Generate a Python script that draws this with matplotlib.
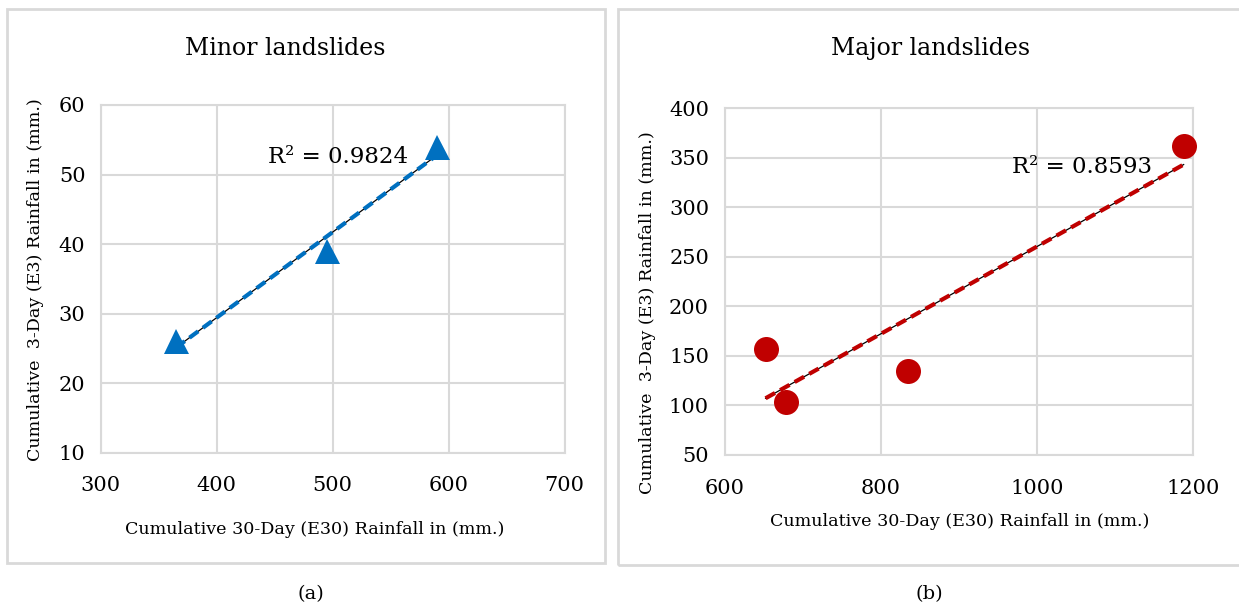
import numpy as np
import matplotlib
matplotlib.use("Agg")
import matplotlib.pyplot as plt
from matplotlib.patches import Rectangle

plt.rcParams['font.family'] = ['DejaVu Serif']

# ---- data ----
minor_e30 = [365, 495, 590]
minor_e3 = [26, 39, 54]
minor_r2_text = "R² = 0.9824"

major_e30 = [652, 678, 835, 1188]
major_e3 = [157, 103, 135, 362]
major_r2_text = "R² = 0.8593"

minor_xticks = [300, 400, 500, 600, 700]
minor_yticks = [10, 20, 30, 40, 50, 60]
major_xticks = [600, 800, 1000, 1200]
major_yticks = [50, 100, 150, 200, 250, 300, 350, 400]

titles = ["Minor landslides", "Major landslides"]
xlabel = "Cumulative 30-Day (E30) Rainfall in (mm.)"
ylabel = "Cumulative  3-Day (E3) Rainfall in (mm.)"
captions = ["(a)", "(b)"]

W, H = 1239, 609
fig = plt.figure(figsize=(W / 100, H / 100), dpi=100)
GRID = '#d9d9d9'


def fx(px):
    return px / W


def fy(py):
    return 1 - py / H


# outer boxes
for (x0, y0, x1, y1) in [(7, 8.5, 605, 563), (618, 8.5, 1250, 565)]:
    fig.patches.append(Rectangle((fx(x0), fy(y1)), fx(x1) - fx(x0), fy(y0) - fy(y1),
                                 transform=fig.transFigure, fill=False,
                                 edgecolor=GRID, lw=2, zorder=0))

panels = [
    dict(rect=[fx(100.7), fy(452.7), fx(564.5) - fx(100.7), fy(105) - fy(452.7)],
         x=minor_e30, y=minor_e3, xt=minor_xticks, yt=minor_yticks,
         color='#0070C0', marker='^', r2=minor_r2_text, r2pos=(268, 157),
         title_pos=(285, 48.5), xl_pos=(315, 529), yl_pos=(36, 280), ypad=11,
         cap_pos=(311, 594)),
    dict(rect=[fx(725), fy(455), fx(1193) - fx(725), fy(108.3) - fy(455)],
         x=major_e30, y=major_e3, xt=major_xticks, yt=major_yticks,
         color='#C00000', marker='o', r2=major_r2_text, r2pos=(1012, 167),
         title_pos=(931, 48.5), xl_pos=(960, 522), yl_pos=(648, 313), ypad=11.5,
         cap_pos=(929, 594)),
]

for i, p in enumerate(panels):
    ax = fig.add_axes(p['rect'])
    ax.set_xlim(p['xt'][0], p['xt'][-1])
    ax.set_ylim(p['yt'][0], p['yt'][-1])
    ax.set_xticks(p['xt'])
    ax.set_yticks(p['yt'])
    ax.grid(True, color=GRID, lw=1.5, zorder=0)
    ax.set_axisbelow(True)
    for s in ax.spines.values():
        s.set_color(GRID)
        s.set_linewidth(1.5)
    ax.tick_params(axis='both', length=0, labelsize=15, colors='black')
    ax.tick_params(axis='x', pad=17)
    ax.tick_params(axis='y', pad=p['ypad'])

    xs = np.array(p['x'], dtype=float)
    ys = np.array(p['y'], dtype=float)
    slope, icpt = np.polyfit(xs, ys, 1)
    tx = np.array([xs.min(), xs.max()])
    ty = slope * tx + icpt
    ax.plot(tx, ty, color='black', lw=0.9, zorder=3)
    ax.plot(tx, ty, color=p['color'], lw=3.0, ls=(0, (2.6, 1.4)), zorder=4,
            dash_capstyle='butt')
    ax.plot(xs, ys, ls='none', marker=p['marker'], markersize=18,
            color=p['color'], markeredgewidth=0, zorder=5, clip_on=False)

    fig.text(fx(p['r2pos'][0]), fy(p['r2pos'][1]), p['r2'], fontsize=16.5,
             ha='left', va='center', zorder=6)
    fig.text(fx(p['title_pos'][0]), fy(p['title_pos'][1]), titles[i], fontsize=17,
             ha='center', va='center')
    fig.text(fx(p['xl_pos'][0]), fy(p['xl_pos'][1]), xlabel, fontsize=12.6,
             ha='center', va='center')
    fig.text(fx(p['yl_pos'][0]), fy(p['yl_pos'][1]), ylabel, fontsize=12.6,
             ha='center', va='center', rotation=90)
    fig.text(fx(p['cap_pos'][0]), fy(p['cap_pos'][1]), captions[i], fontsize=14,
             ha='center', va='center')

fig.savefig('out.png', dpi=100, facecolor='white')
